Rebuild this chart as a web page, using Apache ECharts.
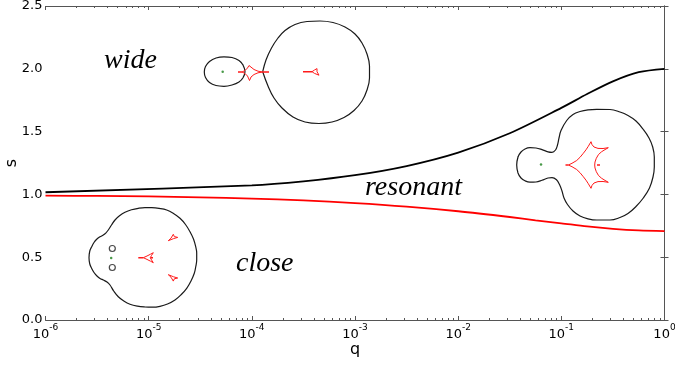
<!DOCTYPE html>
<html><head><meta charset="utf-8">
<script src="https://cdn.jsdelivr.net/npm/echarts@6/dist/echarts.min.js"></script>
<style>html,body{margin:0;padding:0;background:#fff}#c{width:675px;height:365px}</style>
</head><body><div id="c"></div>
<script>
// ---- main boundary curves ----
const qWide  = [1e-6, 1e-4, 3.162e-4, 1e-3, 3.162e-3, 1e-2, 3.162e-2, 1e-1, 1.778e-1, 3.162e-1, 5.623e-1, 1];
const sWide  = [1.017, 1.072, 1.104, 1.153, 1.226, 1.333, 1.487, 1.689, 1.799, 1.900, 1.973, 2.000];
const qClose = [1e-6, 3.162e-6, 1e-5, 3.162e-5, 1e-4, 3.162e-4, 1e-3, 3.162e-3, 1e-2, 3.162e-2, 5.623e-2, 1e-1, 1.778e-1, 3.162e-1, 5.623e-1, 1];
const sClose = [0.990, 0.988, 0.984, 0.977, 0.967, 0.952, 0.931, 0.903, 0.866, 0.820, 0.794, 0.770, 0.745, 0.726, 0.713, 0.707];

// ---- ticks ----
const xExponents = [-6, -5, -4, -3, -2, -1, 0];
const minorMultipliers = [2, 3, 4, 5, 6, 7, 8, 9];
const yTickLabels = ['0.0', '0.5', '1.0', '1.5', '2.0', '2.5'];

// ---- region labels ----
const regionNames = ['wide', 'resonant', 'close'];

// ---- inset sketches (local inset units) ----
// wide topology
const wideSmallLoop = [[45,56.7],[43,50],[39,45.5],[32,42.5],[24,41.8],[16,43],[9.5,46.5],[5.5,51.5],[4.3,57],[5.5,62.5],[9.5,67.5],[16,70.5],[24,71.3],[32,70],[39,67],[43,62.8],[45,56.7]];
const wideBigLoop = [[62.7,56.7],[66,45],[71.5,33],[78,23],[85,15.5],[95,9.5],[107,6.5],[120,6],[133,7.5],[145,12],[155,19],[162,28],[167,39],[169.5,51],[169.5,63],[167,75],[162,86],[154,95.5],[144,102.5],[132,107],[119,108.5],[105,107],[93,102],[82,93],[74,83],[68,71],[62.7,56.7]];
const wideCausticA = [[42,57],[45,55.5],[47.5,53],[49,50.5],[49.5,48.5],[51,52],[54,54.5],[58,56.2],[63,57],[58,57.8],[54,59.5],[51,62],[49.5,65.5],[49,63.5],[47.5,61],[45,58.5],[42,57]];
const wideCausticB = [[112,56.7],[114.5,55],[117,53.6],[119,53.2],[118,55.3],[117,56.7],[118,58.1],[119,60.2],[117,59.8],[114.5,58.4],[112,56.7]];
const wideTails = [[[38,57],[42,57]], [[63,57],[69,57]], [[103,56.7],[112,56.7]]];
const wideLens = [[22.7,56.8]];
// resonant topology
const resLoop = [[6.7,60],[8,52],[11,47],[15,44],[20,42.7],[26,43],[32,44.6],[38,46.8],[42,47.3],[45.5,45],[47.5,40],[49,33],[51,25.5],[56.7,15.5],[63,9.5],[70,6.5],[78,4.8],[86.7,4.3],[100,4.5],[110,7],[118,10.5],[126,16],[133.3,24.5],[139,33],[142.7,42],[144.3,52],[144.3,62],[143,72],[139.5,83],[133.3,93],[126,101.5],[118,108.5],[110,112.5],[100,115],[86.7,115],[78,113.8],[70,111],[63,106],[57.5,99.5],[54,93],[52,86],[49.5,79.5],[46.5,74.8],[42,72.6],[38,73],[32,75.3],[26,77],[20,77.2],[15,75.8],[11,73],[8,68],[6.7,60]];
const resCaustic = [[58.3,60],[62,58.3],[66.7,55.5],[70,52.3],[73.3,48.3],[76,44.8],[78.3,41.3],[81,36.7],[82,39.6],[84,42],[88,43.4],[93,43.5],[98.3,42.7],[95,44.6],[91.5,46.8],[88.5,49.5],[86.3,53.3],[85,57],[84.7,60],[85,63],[86.3,66.7],[88.5,70.5],[91.5,73.2],[95,75.4],[98.3,77.3],[93,76.5],[88,76.6],[84,78],[82,80.4],[81,83.3],[78.3,78.7],[76,75.2],[73.3,71.7],[70,67.7],[66.7,64.5],[62,61.7],[58.3,60]];
const resTails = [[[55.5,60],[58.3,60]], [[87,60],[90,60]]];
const resLens = [[31,59.5]];
// close topology
const closeLoop = [[4,54.7],[4.8,48],[6.7,43.7],[9,39.5],[11.7,36.3],[15,33.8],[18.3,32],[21,29.8],[23.3,27],[26.5,22],[30,17],[34.5,12.8],[40,9.3],[46.5,6.8],[53.3,5.3],[60,4.6],[66.7,4.7],[74,5.4],[81.7,7],[88.5,10.5],[95,15.3],[100.5,21.5],[105,28.7],[108.5,36],[110.7,43.7],[111.7,50],[111.7,57],[110.7,64],[109.3,70.3],[106,78],[101.7,85.3],[96.3,91.5],[90,97],[82.5,101],[75,103.3],[67.5,104.2],[60,104],[52.5,103.2],[45,101.3],[38.8,98],[33.3,93.7],[28.7,88],[25,82],[22,79],[18.3,77],[15,75.4],[11.7,72.7],[9,69.5],[6.7,65.5],[4.8,61],[4,54.7]];
const closeCausticC = [[58.3,54.7],[62,53],[65.5,51.2],[68.3,49.7],[66.5,52.5],[65.3,54.7],[66.5,56.9],[68.3,59.7],[65.5,58.2],[62,56.4],[58.3,54.7]];
const closeCausticU = [[83.3,37.7],[86,35.2],[88.3,31.3],[89.3,33.6],[92.7,34.4],[88.6,35.6],[83.3,37.7]];
const closeCausticL = [[83.3,71.7],[86,74.2],[88.3,78.1],[89.3,75.8],[92.7,75],[88.6,73.8],[83.3,71.7]];
const closeTails = [[[53.3,54.7],[58.3,54.7]], [[65.5,54.7],[68,54.7]]];
const closeImages = [[27.3,45.5],[27.3,64.5]];
const closeLens = [[26.2,54.9]];

// ---- build ----
function zip(a, b) { return a.map((v, i) => [v, b[i]]); }
function wrap(pts) { const n = pts.length; return [pts[n - 2]].concat(pts, [pts[1]]); }
const minorTickPos = [];
xExponents.slice(0, -1).forEach(e => minorMultipliers.forEach(m => minorTickPos.push(e + Math.log10(m))));

const AX = '#555';
const FONT = 'DejaVu Sans';
const chart = echarts.init(document.getElementById('c'), null, { renderer: 'canvas' });

const insetBoxes = [
  { left: 200, top: 15, w: 175, h: 113 },
  { left: 510, top: 105, w: 150, h: 120 },
  { left: 85, top: 203, w: 115, h: 110 }
];
const grids = [{ left: 45.5, top: 6, width: 619, height: 314, containLabel: false, outerBoundsMode: 'none' }]
  .concat(insetBoxes.map(b => ({ left: b.left, top: b.top, width: b.w, height: b.h, containLabel: false, outerBoundsMode: 'none' })));

const xAxes = [
  { type: 'log', logBase: 10, min: 1e-6, max: 1, gridIndex: 0, position: 'bottom',
    name: 'q', nameLocation: 'middle', nameGap: 22, nameMoveOverlap: false,
    nameTextStyle: { fontFamily: FONT, fontSize: 16, color: '#000' },
    axisLine: { show: true, lineStyle: { color: AX, width: 1 } },
    axisTick: { show: true, inside: true, length: 4, lineStyle: { color: AX } },
    splitLine: { show: false }, minorTick: { show: false },
    axisLabel: { show: true, margin: 3, showMinLabel: true, showMaxLabel: true, hideOverlap: false,
      formatter: v => { const e = Math.round(Math.log10(v)); return xExponents.indexOf(e) >= 0 ? '{b|10}{s|' + e + '}' : ''; },
      rich: { b: { fontFamily: FONT, fontSize: 13, color: '#000', verticalAlign: 'bottom', lineHeight: 18 },
              s: { fontFamily: FONT, fontSize: 9, color: '#000', verticalAlign: 'top', lineHeight: 18 } } } },
  { type: 'value', min: -6, max: 0, gridIndex: 0, position: 'bottom',
    axisLine: { show: false }, splitLine: { show: false }, axisLabel: { show: false },
    axisTick: { show: true, inside: true, length: 2, customValues: minorTickPos, lineStyle: { color: AX } } },
  { type: 'log', logBase: 10, min: 1e-6, max: 1, gridIndex: 0, position: 'top',
    axisLine: { show: true, lineStyle: { color: AX, width: 1 } },
    axisTick: { show: true, inside: true, length: 4, lineStyle: { color: AX } },
    splitLine: { show: false }, axisLabel: { show: false } },
  { type: 'value', min: -6, max: 0, gridIndex: 0, position: 'top',
    axisLine: { show: false }, splitLine: { show: false }, axisLabel: { show: false },
    axisTick: { show: true, inside: true, length: 2, customValues: minorTickPos, lineStyle: { color: AX } } }
].concat(insetBoxes.map((b, i) => ({ type: 'value', gridIndex: i + 1, min: 0, max: b.w, show: false })));

const yAxes = [
  { type: 'value', min: 0, max: 2.5, interval: 0.5, gridIndex: 0, position: 'left',
    name: 's', nameLocation: 'middle', nameGap: 26, nameRotate: 90, nameMoveOverlap: false,
    nameTextStyle: { fontFamily: FONT, fontSize: 16, color: '#000' },
    axisLine: { show: true, lineStyle: { color: AX, width: 1 } },
    axisTick: { show: true, inside: true, length: 4, lineStyle: { color: AX } },
    splitLine: { show: false },
    axisLabel: { margin: 3, fontFamily: FONT, fontSize: 13, color: '#000',
      formatter: (v) => yTickLabels[Math.round(v / 0.5)] } },
  { type: 'value', min: 0, max: 2.5, interval: 0.5, gridIndex: 0, position: 'right',
    axisLine: { show: true, lineStyle: { color: AX, width: 1 } },
    axisTick: { show: true, inside: true, length: 4, lineStyle: { color: AX } },
    splitLine: { show: false }, axisLabel: { show: false } }
].concat(insetBoxes.map((b, i) => ({ type: 'value', gridIndex: i + 1, min: 0, max: b.h, inverse: true, show: false })));

const series = [
  { type: 'line', xAxisIndex: 0, yAxisIndex: 0, data: zip(qWide, sWide), showSymbol: false, smooth: 0.3,
    lineStyle: { color: '#000', width: 1.8 }, z: 3 },
  { type: 'line', xAxisIndex: 0, yAxisIndex: 0, data: zip(qClose, sClose), showSymbol: false, smooth: 0.3,
    lineStyle: { color: '#ff0000', width: 1.8 }, z: 3 }
];
function curve(ax, pts, color, width, smooth) {
  series.push({ type: 'line', xAxisIndex: ax, yAxisIndex: ax - 2, data: pts, showSymbol: false, smooth: smooth,
    lineStyle: { color: color, width: width }, silent: true, z: 4 });
}
function dots(ax, pts, color, size, hollow) {
  series.push({ type: 'scatter', xAxisIndex: ax, yAxisIndex: ax - 2, data: pts, symbol: 'circle', symbolSize: size,
    itemStyle: hollow ? { color: 'rgba(0,0,0,0)', borderColor: color, borderWidth: 1.2 } : { color: color }, silent: true, z: 5 });
}
const BLK = '#1a1a1a', RED = '#ff1a1a', GRN = '#1a801a';
// wide inset (axis index 4)
curve(4, wrap(wideSmallLoop), BLK, 1.2, 0.4);
curve(4, wideBigLoop, BLK, 1.2, 0.4);
curve(4, wideCausticA, RED, 1, false);
curve(4, wideCausticB, RED, 1, false);
wideTails.forEach(t => curve(4, t, RED, 1.5, false));
dots(4, wideLens, GRN, 2.5, false);
// resonant inset (axis index 5)
curve(5, wrap(resLoop), BLK, 1.2, 0.4);
curve(5, resCaustic, RED, 1, false);
resTails.forEach(t => curve(5, t, RED, 1.5, false));
dots(5, resLens, GRN, 2.5, false);
// close inset (axis index 6)
curve(6, wrap(closeLoop), BLK, 1.2, 0.4);
curve(6, closeCausticC, RED, 1, false);
curve(6, closeCausticU, RED, 1, false);
curve(6, closeCausticL, RED, 1, false);
closeTails.forEach(t => curve(6, t, RED, 1.5, false));
dots(6, closeImages, BLK, 6, true);
dots(6, closeLens, GRN, 2.5, false);

const labelPos = [{ left: 104, top: 47 }, { left: 365, top: 174 }, { left: 236, top: 250 }];
const graphic = regionNames.map((t, i) => ({
  type: 'text', left: labelPos[i].left, top: labelPos[i].top, z: 10,
  style: { text: t, font: 'italic 28px "Liberation Serif"', fill: '#000' }
}));

chart.setOption({
  animation: false,
  backgroundColor: '#fff',
  grid: grids, xAxis: xAxes, yAxis: yAxes, series: series, graphic: graphic
});
</script></body></html>
